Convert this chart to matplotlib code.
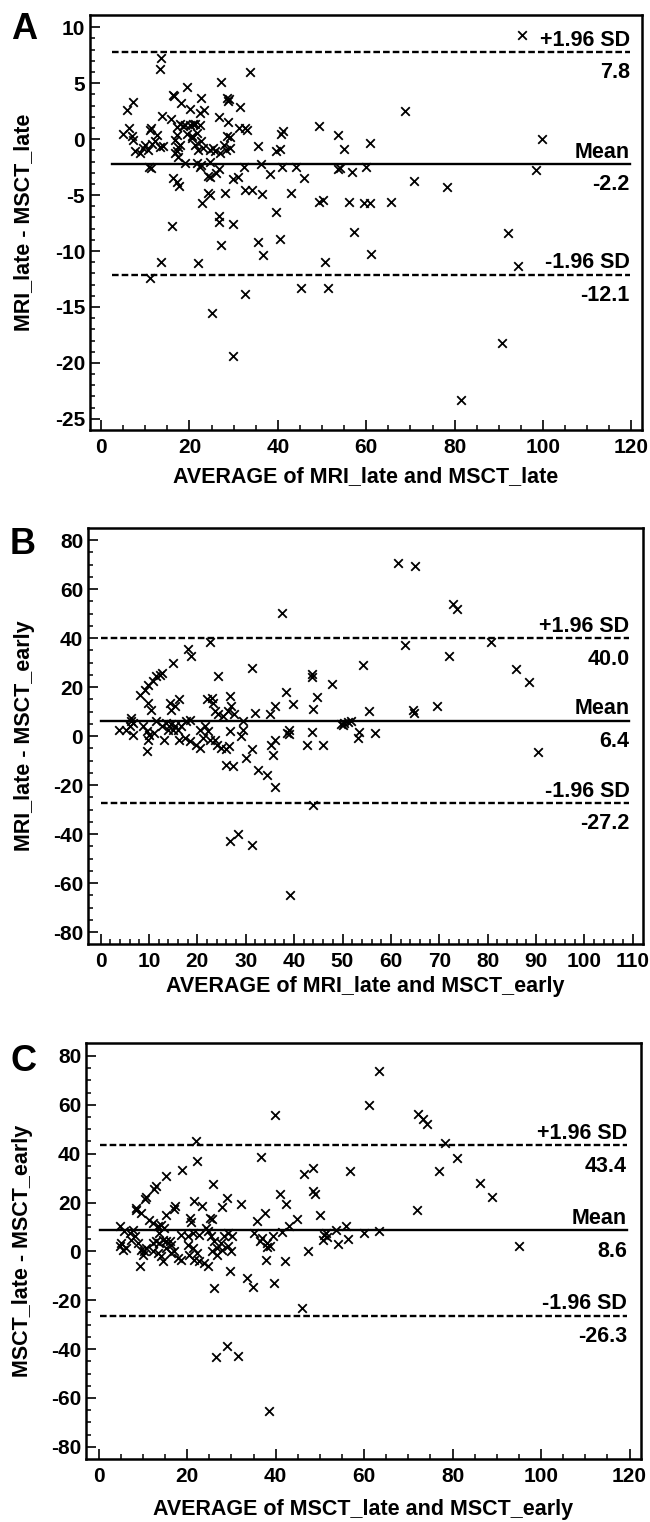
import matplotlib
matplotlib.use("Agg")
import matplotlib.pyplot as plt
from matplotlib.ticker import FixedLocator, NullFormatter, FuncFormatter
import numpy as np

plt.rcParams['font.family'] = ['Liberation Sans', 'DejaVu Sans']
plt.rcParams['font.weight'] = 'bold'
plt.rcParams['axes.unicode_minus'] = False

# ---------------- Panel A data ----------------
a_avg = [13.5, 13.3, 33.8, 27.2, 19.5, 16.2, 16.6, 7.3, 5.9, 18.2, 22.7, 28.6, 29.0, 28.8, 31.5, 20.2, 23.2, 22.3, 13.7, 15.9, 26.8,
         17.9, 19.0, 20.1, 21.3, 22.4, 18.5, 20.7,
         28.7, 31.3, 32.6, 49.4, 41.1, 40.8, 5.0, 6.4, 11.4, 11.0, 6.9, 7.3, 12.6,
         10.0, 10.7, 12.2, 13.3, 11.5, 9.5,
         7.7, 8.8, 14.1, 16.7, 17.1, 20.5, 21.6, 22.7, 25.3, 29.1, 29.1, 27.8, 27.0, 28.3, 35.4, 39.5, 40.5,
         17.1, 17.3, 17.1, 17.5, 17.9, 16.8,
         19.4, 20.5, 21.3, 22.0, 23.1, 24.7, 25.8, 28.4, 33.0,
         19.0, 21.6, 10.8, 11.4, 24.7, 36.2, 41.0, 44.1, 46.0, 38.3, 32.4, 22.3, 22.6, 26.1, 26.8, 24.2, 24.6, 29.9, 31.0, 16.3,
         17.1, 17.6, 32.6, 34.2, 36.4, 24.2, 24.6, 28.0, 43.0, 22.9, 39.5, 26.8, 26.8, 29.9, 16.1, 35.4, 40.4, 27.1, 36.6, 13.5,
         22.0, 11.1, 32.5, 25.0, 29.9, 45.3, 49.4, 50.3, 50.6, 51.4,
         95.2, 68.8, 53.7, 54.9, 60.9, 99.8, 53.6, 54.0, 56.8, 60.0, 98.5, 70.9, 78.3, 56.0, 59.6, 60.8, 65.5, 57.2, 92.1, 61.0,
         94.3, 90.8, 81.4]
a_diff = [7.25, 6.3, 5.97, 5.07, 4.7, 3.97, 3.9, 3.3, 2.57, 3.2, 3.7, 3.67, 3.6, 3.45, 2.87, 2.7, 2.6, 2.3, 2.1, 1.8, 2.0,
          1.35, 1.3, 1.25, 1.35, 1.3, 1.2, 1.4,
          1.5, 1.0, 1.0, 1.2, 0.75, 0.5, 0.45, 1.0, 1.0, 0.8, 0.24, -0.06, 0.4,
          -0.5, -0.96, -0.2, -0.66, -0.4, -0.8,
          -1.1, -1.25, -0.65, -0.06, 0.4, 0.24, 0.54, -0.2, -0.8, 0.15, -0.8, -0.5, -1.2, -0.95, -0.57, -1.1, -0.9,
          1.1, -0.66, -1.1, -1.56, -0.5, -1.25,
          0.5, 0.08, -0.5, -0.96, -0.8, -0.96, -1.1, 0.24, 0.83,
          -2.1, -2.15, -2.45, -2.6, -2.0, -2.24, -2.5, -2.5, -3.5, -3.1, -2.45, -2.5, -2.3, -3.0, -2.7, -3.3, -3.4, -3.6, -3.35, -3.5,
          -3.8, -4.2, -4.5, -4.5, -4.9, -4.8, -5.0, -4.8, -4.8, -5.7, -6.5, -6.9, -7.4, -7.6, -7.8, -9.2, -8.9, -9.5, -10.4, -11.0,
          -11.1, -12.4, -13.8, -15.5, -19.4, -13.3, -5.6, -5.4, -11.0, -13.3,
          9.34, 2.48, 0.39, -0.87, -0.36, 0.0, -2.7, -2.6, -2.96, -2.45, -2.8, -3.7, -4.3, -5.6, -5.7, -5.7, -5.6, -8.3, -8.4, -10.3,
          -11.3, -18.2, -23.3]
a_limits = [7.8, -2.2, -12.1]          # +1.96 SD, mean, -1.96 SD

# ---------------- Panel B data ----------------
b_avg = [37.4, 22.6, 18.1, 18.6, 15.0,
         8.1, 9.1, 9.8, 10.8, 11.5, 12.2, 12.6,
         24.3, 31.2, 43.7, 43.7, 38.4, 39.8, 44.8, 43.9,
         9.8, 10.5, 14.3, 15.3, 16.3, 14.6, 21.9, 23.0, 23.2, 26.7, 27.0, 26.4, 27.6, 23.6, 24.3, 25.3, 31.9, 35.0, 36.0,
         6.0, 6.3, 6.6, 6.2, 3.9, 8.8, 9.5, 10.1, 11.5, 12.6, 13.6, 14.6, 15.3, 16.0, 16.7, 13.9, 15.0, 17.7, 18.4,
         16.3, 17.4, 18.4, 19.8, 20.5, 21.5, 22.2, 21.2, 22.6, 23.6, 24.1, 24.8, 25.9, 26.6, 20.5, 9.5, 29.5, 29.5, 29.1, 26.7,
         31.2, 35.3, 36.0, 35.7,
         9.8, 13.2, 5.3, 6.7, 11.0,
         26.0, 27.4, 30.1, 32.6, 34.3, 36.1, 38.6, 39.0, 38.9, 42.6, 43.7, 46.0, 43.9, 26.7, 28.4, 31.3, 39.2,
         61.5, 65.0, 72.8, 73.6, 62.9, 80.7, 72.1, 54.3, 85.9, 88.6, 47.8, 55.4, 64.5, 64.8, 69.5, 49.7, 50.4, 51.1, 51.7, 50.0,
         53.4, 53.1, 56.8, 90.5]
b_diff = [50.3, 38.4, 35.8, 32.9, 30.0,
          17, 19, 21.1, 22.4, 24.5, 25.2, 25.9,
          24.5, 27.9, 25.6, 24.2, 18, 13.3, 16, 11.3,
          13.6, 10.9, 13.6, 12.2, 15, 10.9, 15, 15.7, 13.6, 16.3, 12.2, 10.2, 8.9, 10.2, 8.9, 8.2, 9.6, 8.9, 12.2,
          4.0, 7.6, 5.5, 6.2, 2.7, 4.1, 2.0, 0.7, 6.1, 4.1, 5.5, 4.8, 4.1, 2.7, 4.1, 2.7, 2.7, 6.1, 6.8,
          -1.4, -0.6, -2.0, -3.4, 2.7, 4.1, 2.0, -0.6, -1.4, -1.4, -3.4, -4.7, -5.4, -4.1, -4.7, -6.1, 6.1, 2.7, 0, 2.0,
          -5.4, -3.4, -1.4, -7.5,
          -1.4, -1.4, 2.7, 0.7, 1.4,
          -11.6, -12.2, -8.8, -13.6, -15.9, -20.7, 1.4, 2.4, 0.8, -3.7, 1.8, -3.7, -27.9, -42.9, -40.1, -44.2, -65,
          70.7, 69.4, 54.1, 52.1, 37.4, 38.4, 32.7, 29, 27.6, 22.2, 21.4, 10.2, 10.6, 9.5, 12.2, 5.0, 5.6, 6.0, 6.2, 4.4,
          1.8, -0.7, 1.4, -6.4]
b_limits = [40.0, 6.4, -27.2]

# ---------------- Panel C data ----------------
c_avg = [39.9, 21.9, 36.6, 22.1, 18.8, 15.1, 13.0, 12.4, 10.7, 10.5, 8.5, 8.3, 25.9, 28.9, 27.8, 32.1, 21.6, 23.4, 17.2, 16.9,
         15.1, 9.6, 11.3, 41.0, 42.3, 46.4, 48.5, 48.5, 48.9, 37.5, 35.8, 44.9, 43.1, 41.4, 50.0, 39.3, 38.7, 38.1, 35.2, 36.5,
         37.7, 42.2, 47.3, 51.0, 50.8, 33.6, 34.8, 39.7, 26.1, 29.7, 9.4, 45.9, 26.4, 28.9, 31.5, 38.4,
         20.6, 20.8, 25.1, 25.5,
         63.4, 61.0, 72.2, 73.2, 74.1, 78.2, 80.9, 56.8, 76.9, 86.3, 88.9, 71.9, 55.9, 53.6, 51.4, 51.7, 54.1, 56.4, 60.0, 63.4,
         95.1,
         4.7, 5.8, 7.0, 7.7, 12.2, 13.3, 14.1, 14.8, 13.7, 4.7, 5.5, 6.2, 5.0, 7.3, 8.1, 8.8, 9.6, 10.3, 10.0, 10.7,
         12.2, 13.0, 13.7, 14.4, 15.2, 16.0, 16.3, 12.2, 13.3, 14.1, 14.4, 15.2, 16.3, 17.1, 17.8, 18.6, 18.6, 20.1, 21.2, 22.7,
         20.1, 21.2, 22.3, 20.4, 21.6, 22.7, 23.8, 24.6, 24.2, 24.6, 25.3, 26.1, 26.8, 27.6, 28.3, 29.1, 30.2, 25.7, 26.8, 27.9,
         29.1, 29.8, 36.9, 38.0]
c_diff = [55.9, 45, 38.6, 37.1, 33.2, 30.7, 26.6, 25.6, 22.2, 21.6, 17.7, 17, 27.6, 21.8, 18.1, 19.4, 20.5, 18.4, 18.7, 17.3,
          15, 15.7, 13, 23.6, 19.4, 31.8, 34.1, 24.6, 23.6, 15.7, 12.3, 13.2, 10.2, 7.8, 15, 6.1, 2, 1.8, 7.5, 4.1,
          -3.4, -4.1, 0.3, 6.8, 4.8, -10.9, -14.6, -13, -15, -8.2, -6.1, -23.2, -43.4, -38.9, -43, -65.5,
          13.6, 11.9, 13.6, 13.4,
          73.7, 60, 56.3, 54.2, 52.1, 44.3, 38.2, 32.7, 32.7, 28, 22.2, 16.8, 10.2, 8.9, 7.5, 5.9, 3, 5, 7.5, 8.2,
          2.3,
          10.2, 8.2, 7.5, 8.9, 11.6, 10.2, 10.9, 9.6, 7.5, 2, 0.7, 1.4, 3.4, 4.8, 6.1, 3.4, 0.7, 0, -1.4, 1.4,
          3.4, 4.1, 3.4, 4.8, 4.1, 4.1, 2.7, 0, -0.7, -2, -4.1, 1.4, -0.7, 0, -2.7, -3.4, 6.8, 6.1, 7.5, 6.8,
          2.7, 1.4, -0.7, -1.4, -3.4, -4.1, -4.8, -6.1, 9.6, 8.2, 6.1, 4.1, 1.4, 3.4, 6.1, 7.5, 6.1, 0, -1.4, 0.7,
          2, 0, 5.5, 3.4]
c_limits = [43.4, 8.6, -26.3]

limit_names = ['+1.96 SD', 'Mean', '-1.96 SD']

W, H = 650, 1522
fig = plt.figure(figsize=(W / 100, H / 100), dpi=100)


def px_rect(left, top, right, bottom):
    return [left / W, 1 - bottom / H, (right - left) / W, (bottom - top) / H]


panels = [
    dict(letter='A', rect=(90, 15, 642, 430), x=a_avg, y=a_diff, lim=a_limits,
         xlim=(-2.5, 122.4), ylim=(-26.0, 11.1),
         xmaj=np.arange(0, 121, 20), xmin=np.arange(0, 121, 5),
         ymaj=np.arange(-25, 11, 5), ymin=np.arange(-25, 11, 1),
         line_x=(2.4, 119.6),
         ylabel='MRI_late - MSCT_late', xlabel='AVERAGE of MRI_late and MSCT_late',
         ylab_x=-0.12, xlab_y=-0.086, letter_xy=(11, 39)),
    dict(letter='B', rect=(88, 528, 643, 944), x=b_avg, y=b_diff, lim=b_limits,
         xlim=(-2.6, 112.1), ylim=(-84.8, 85.0),
         xmaj=np.arange(0, 111, 10), xmin=np.arange(0, 111, 2),
         ymaj=np.arange(-80, 81, 20), ymin=np.arange(-80, 81, 5),
         line_x=(0.0, 109.3),
         ylabel='MRI_late - MSCT_early', xlabel='AVERAGE of MRI_late and MSCT_early',
         ylab_x=-0.1153, xlab_y=-0.076, letter_xy=(10, 554)),
    dict(letter='C', rect=(86, 1043, 641, 1459), x=c_avg, y=c_diff, lim=c_limits,
         xlim=(-2.9, 122.6), ylim=(-85.0, 85.3),
         xmaj=np.arange(0, 121, 20), xmin=np.arange(0, 121, 5),
         ymaj=np.arange(-80, 81, 20), ymin=np.arange(-80, 81, 5),
         line_x=(0.2, 119.4),
         ylabel='MSCT_late - MSCT_early', xlabel='AVERAGE of MSCT_late and MSCT_early',
         ylab_x=-0.1144, xlab_y=-0.096, letter_xy=(10, 1071)),
]

fmt = FuncFormatter(lambda v, p: ('%g' % v).replace('\u2212', '-'))

for P in panels:
    ax = fig.add_axes(px_rect(*P['rect']))
    ax.scatter(P['x'], P['y'], marker='x', s=38, c='black', linewidths=1.3, zorder=3)

    x0, x1 = P['line_x']
    styles = ['--', '-', '--']
    for val, name, ls in zip(P['lim'], limit_names, styles):
        if ls == '--':
            ax.plot([x0, x1], [val, val], color='black', lw=1.7, linestyle=(0, (2.8, 1.3)), zorder=2)
        else:
            ax.plot([x0, x1], [val, val], color='black', lw=1.7, linestyle='-', zorder=2)
        ax.annotate(name, xy=(x1, val), xytext=(0, 4.5), textcoords='offset points',
                    ha='right', va='baseline', fontsize=15.5, fontweight='bold')
        ax.annotate('%.1f' % val, xy=(x1, val), xytext=(0, -19), textcoords='offset points',
                    ha='right', va='baseline', fontsize=15.5, fontweight='bold')

    ax.set_xlim(*P['xlim'])
    ax.set_ylim(*P['ylim'])
    ax.xaxis.set_major_locator(FixedLocator(P['xmaj']))
    ax.xaxis.set_minor_locator(FixedLocator(P['xmin']))
    ax.yaxis.set_major_locator(FixedLocator(P['ymaj']))
    ax.yaxis.set_minor_locator(FixedLocator(P['ymin']))
    ax.xaxis.set_major_formatter(fmt)
    ax.yaxis.set_major_formatter(fmt)
    ax.xaxis.set_minor_formatter(NullFormatter())
    ax.yaxis.set_minor_formatter(NullFormatter())

    ax.tick_params(axis='both', which='major', direction='in', length=7, width=1.2,
                   labelsize=15)
    ax.tick_params(axis='both', which='minor', direction='in', length=3.6, width=1.1)
    ax.tick_params(axis='x', which='major', pad=6)
    ax.tick_params(axis='y', which='major', pad=3.5)
    for lab in ax.get_xticklabels() + ax.get_yticklabels():
        lab.set_fontweight('bold')
    for sp in ax.spines.values():
        sp.set_linewidth(1.8)

    ax.set_ylabel(P['ylabel'], fontsize=15.5, fontweight='bold')
    ax.yaxis.set_label_coords(P['ylab_x'], 0.5)
    ax.yaxis.label.set_verticalalignment('center')
    ax.set_xlabel(P['xlabel'], fontsize=15.5, fontweight='bold')
    ax.xaxis.set_label_coords(0.5, P['xlab_y'])

    lx, ly = P['letter_xy']
    fig.text(lx / W, 1 - ly / H, P['letter'], fontsize=26, fontweight='bold',
             ha='left', va='baseline')

fig.savefig('out.png', dpi=100)
